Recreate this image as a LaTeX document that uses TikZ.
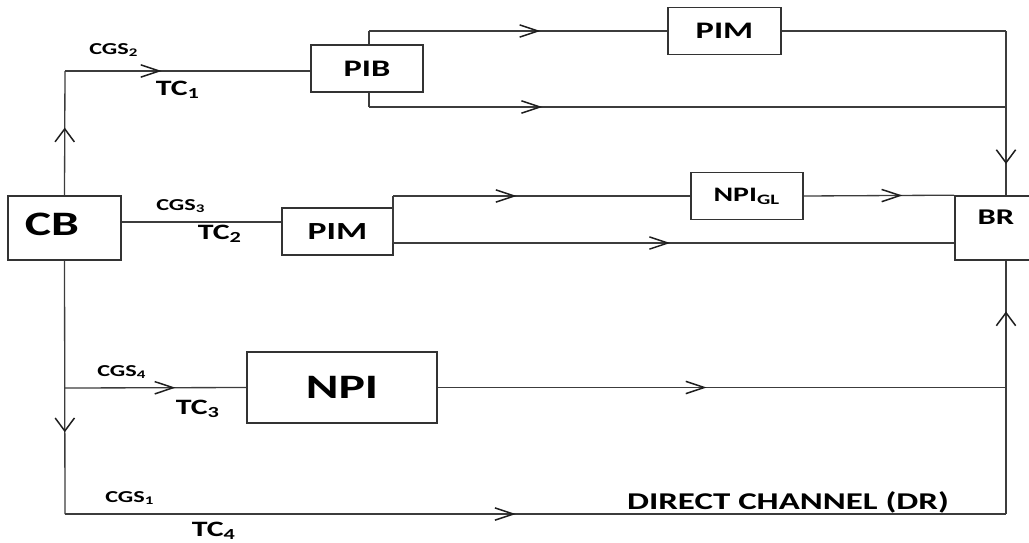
\documentclass[tikz,border=0pt]{standalone}
\usepackage{fontspec}
\setmainfont{Carlito}
\usepackage{graphicx}
\usetikzlibrary{arrows.meta,decorations.markings}

\definecolor{linegray}{HTML}{3C3C3C}
\definecolor{boxgray}{HTML}{333333}
\definecolor{tipgray}{HTML}{1E1E1E}
% labels are set in a widened bold face
\newcommand{\wide}[1]{\scalebox{1.45}[1]{#1}}
\newcommand{\fs}[1]{\bfseries\fontsize{#1}{#1}\selectfont}

\tikzset{
  hbarb/.tip={Straight Barb[length=10.5pt,width=7pt,line width=0.85pt,color=tipgray]},
  vbarb/.tip={Straight Barb[length=7.4pt,width=11pt,line width=0.85pt,color=tipgray]},
  line/.style={draw=linegray,line width=0.75pt},
  box/.style={draw=boxgray,line width=0.95pt,fill=white,inner sep=0pt,text=black},
  lbl/.style={inner sep=0pt,text=black},
  harrow at/.style={postaction={decorate,decoration={markings,mark=at position #1 with {\arrow{hbarb}}}}},
  varrow at/.style={postaction={decorate,decoration={markings,mark=at position #1 with {\arrow{vbarb}}}}}
}

\begin{document}
\begin{tikzpicture}[x=0.02cm,y=-0.02cm]
\useasboundingbox (0,0) rectangle (1029,542);
\clip (0,0) rectangle (1029,542);

% blocks
\node[box,minimum width=2.26cm,minimum height=1.28cm] (CB) at (64.5,228) {};
\node[lbl,font=\fs{19.5}] (CBt) at (52,224) {\wide{CB}};
\node[box,minimum width=2.24cm,minimum height=0.94cm,font=\fs{13.5}] (PIB) at (367,68.5) {\wide{PIB}};
\node[box,minimum width=2.26cm,minimum height=0.94cm,font=\fs{13.5}] (PIMa) at (724.5,31) {\wide{PIM}};
\node[box,minimum width=2.22cm,minimum height=0.94cm,font=\fs{14}] (PIMb) at (337.5,231.5) {\wide{PIM}};
\node[box,minimum width=2.24cm,minimum height=0.94cm,font=\fs{11.7}] (NPIGL) at (747,196) {\wide{NPI\textsubscript{GL}}};
\node[box,minimum width=1.72cm,minimum height=1.28cm] (BR) at (998,228) {};
\node[lbl,font=\fs{12.8}] (BRt) at (996,217) {\wide{BR}};
\node[box,minimum width=3.8cm,minimum height=1.42cm,font=\fs{19.5}] (NPI) at (342,387.5) {\wide{NPI}};

% junction points
\coordinate (c1) at (65,71);
\coordinate (p1) at (369,31);
\coordinate (p2) at (369,107);
\coordinate (r1) at (1006,31);
\coordinate (m1) at (121,222);
\coordinate (q1) at (393,196);
\coordinate (q2) at (393,243);
\coordinate (n1) at (65,388);
\coordinate (b1) at (65,514);
\coordinate (b2) at (1006,514);

% upper channel through PIB
\draw[line,varrow at=0.544] (CB.north) -- (c1);
\draw[line,harrow at=0.394] (c1) -- (c1 -| PIB.west);
\draw[line] (p1 |- PIB.north) -- (p1);
\draw[line,harrow at=0.575] (p1) -- (PIMa.west);
\draw[line] (PIMa.east) -- (r1);
\draw[line,varrow at=0.81] (r1) -- (r1 |- BR.north);
\draw[line] (p2 |- PIB.south) -- (p2);
\draw[line,harrow at=0.272] (p2) -- (p2 -| r1);

% middle channel through PIM
\draw[line] (CB.east |- m1) -- (PIMb.west |- m1);
\draw[line] (q1) -- (q2);
\draw[line,harrow at=0.416] (q1) -- (NPIGL.west);
\draw[line,harrow at=0.656] (NPIGL.east) -- (BR.north west);
\draw[line,harrow at=0.494] (q2) -- (q2 -| BR.west);

% lower channels
\draw[line,varrow at=0.677] (CB.south) -- (b1);
\draw[line,harrow at=0.61] (n1) -- (NPI.west);
\draw[line,harrow at=0.473] (NPI.east) -- (NPI.east -| b2);
\draw[line,harrow at=0.479] (b1) -- (b2);
\draw[line,varrow at=0.8] (b2) -- (b2 |- BR.south);

% channel labels
\node[lbl,font=\fs{9.5}] (cgs2) at (114,50) {\wide{CGS\textsubscript{2}}};
\node[lbl,font=\fs{12.5}] (tc1) at (178,90) {\wide{TC\textsubscript{1}}};
\node[lbl,font=\fs{9.5}] (cgs3) at (181,206) {\wide{CGS\textsubscript{3}}};
\node[lbl,font=\fs{12.5}] (tc2) at (220,234) {\wide{TC\textsubscript{2}}};
\node[lbl,font=\fs{9.5}] (cgs4) at (122,372) {\wide{CGS\textsubscript{4}}};
\node[lbl,font=\fs{12.5}] (tc3) at (198,409) {\wide{TC\textsubscript{3}}};
\node[lbl,font=\fs{9.5}] (cgs1) at (130,498) {\wide{CGS\textsubscript{1}}};
\node[lbl,font=\fs{12.5}] (tc4) at (214,531) {\wide{TC\textsubscript{4}}};
\node[lbl,font=\fs{13.7}] (dr) at (788,502) {\wide{DIRECT CHANNEL (DR)}};
\end{tikzpicture}
\end{document}
